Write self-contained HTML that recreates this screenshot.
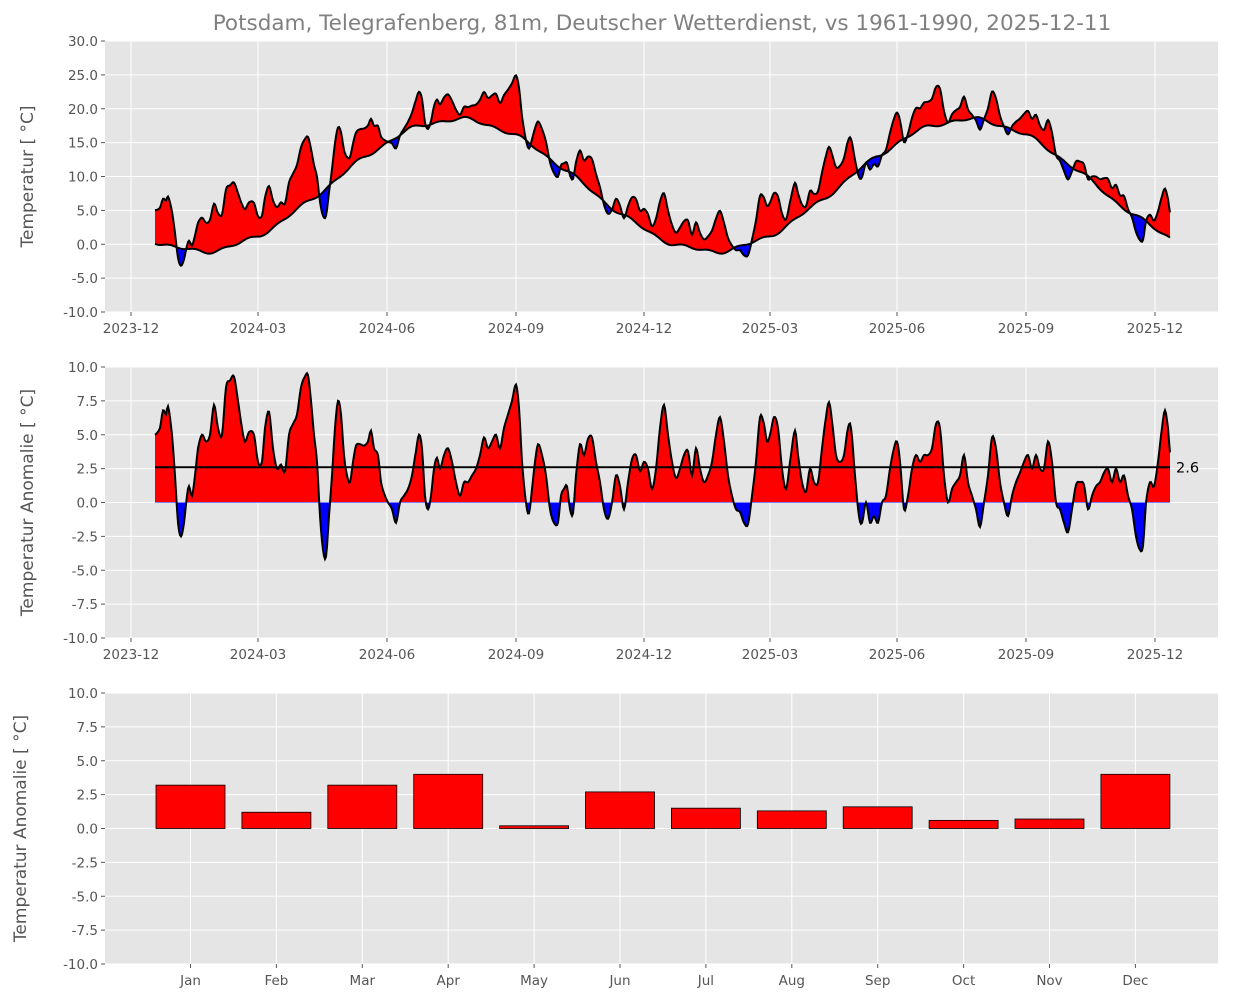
<!DOCTYPE html>
<html><head><meta charset="utf-8"><style>
html,body{margin:0;padding:0;background:#fff;}
svg text{font-family:"DejaVu Sans","Liberation Sans",sans-serif;}
</style></head><body>
<svg id="s" width="1235" height="1003" xmlns="http://www.w3.org/2000/svg"></svg>
<script>
const S=document.getElementById('s');let h='';
const AX=[105,1218];
const an=[[155,5],[160,5.5],[163,6.8],[166,6.5],[168,7.1],[172,5],[175,2],[178,-1.5],[181,-2.5],[184,-1.5],[187,0.5],[189,1.2],[192,0.5],[195,2],[198,4],[202,5],[206,4.5],[210,5],[214,7.2],[218,5.5],[222,5],[226,8.5],[230,9],[234,9.3],[238,7.5],[242,5.5],[245,4.5],[249,5.2],[254,5],[258,3],[262,3],[265,5.5],[269,6.7],[273,4],[277,2.5],[281,2.8],[285,2.3],[289,5],[293,5.8],[297,6.5],[301,8.5],[305,9.3],[308,9.4],[311,7.5],[314,5],[317,3],[320,-1],[323,-3.5],[326,-4],[329,-1],[332,2],[335,5.5],[338,7.5],[341,6.5],[344,3.5],[347,2],[350,1.5],[353,3],[356,4.2],[360,4.3],[364,4.2],[368,4.5],[371,5.3],[374,4],[378,3.5],[381,1.5],[385,0.5],[388,0],[392,-0.5],[396,-1.5],[400,0],[404,0.5],[408,1],[412,2],[416,3.8],[419,5],[422,4],[425,0.5],[428,-0.5],[431,0.5],[434,2.5],[437,3.3],[440,2.5],[444,3.5],[448,4],[452,3],[456,1.5],[460,0.5],[464,1.5],[468,1.5],[472,2],[476,2.5],[480,3.5],[484,4.8],[488,4],[492,4.5],[496,5],[500,4],[504,5.5],[508,6.5],[512,7.5],[516,8.7],[519,7],[522,3],[526,0],[529,-0.8],[532,1],[535,3],[538,4.3],[542,3.5],[546,2],[550,-0.5],[554,-1.5],[558,-1.5],[561,0.5],[564,1],[567,1.2],[570,-0.5],[573,-0.8],[576,2],[580,4.3],[584,3.5],[588,4.7],[592,4.8],[596,3],[600,1.5],[604,-0.5],[608,-1.2],[612,0],[616,2],[620,1.2],[624,-0.5],[628,1.5],[632,3.2],[636,3.5],[640,2.3],[644,3],[648,2.5],[652,1],[656,2.5],[660,5.5],[664,7.2],[668,5],[672,3],[676,1.8],[680,2.5],[684,3.5],[688,3.8],[692,2],[696,4],[700,2.5],[704,1.5],[708,2],[712,3],[716,5],[720,6.3],[724,4.5],[728,2],[732,0.5],[736,-0.5],[740,-0.7],[744,-1.5],[748,-1.6],[752,0.5],[756,3],[760,6.3],[764,5.8],[767,4.5],[770,5],[774,6.3],[778,5.5],[782,2.5],[786,1],[790,3],[795,5.3],[798,3.5],[802,1.5],[806,0.8],[810,2.5],[814,1.5],[818,1.5],[822,4],[826,6.3],[829,7.4],[832,6],[836,3.5],[840,3],[844,3.5],[848,5.5],[851,5.5],[855,2],[859,-1],[862,-1.5],[866,0],[870,-1.5],[874,-1],[878,-1.5],[882,0],[886,0.5],[890,2.5],[894,4],[897,4.5],[900,3],[904,-0.5],[908,0.5],[912,2.5],[916,3.5],[920,3],[924,3.5],[928,3.5],[932,4],[936,5.8],[940,5.5],[944,2],[948,0],[952,1],[956,1.5],[960,2],[964,3.5],[968,1.5],[972,0.5],[976,-0.5],[980,-1.8],[984,0],[988,2],[992,4.8],[996,4],[1000,1.5],[1004,0],[1008,-1],[1012,0.5],[1016,1.5],[1020,2.2],[1024,3],[1028,3.5],[1032,2.5],[1036,3.5],[1040,2.5],[1044,2.5],[1048,4.5],[1052,3],[1056,0],[1060,-0.5],[1064,-1.5],[1068,-2.2],[1072,-0.5],[1076,1.3],[1080,1.5],[1084,1.3],[1088,-0.5],[1092,0.5],[1096,1.2],[1100,1.5],[1104,2.2],[1108,2.5],[1112,1.5],[1116,2.5],[1120,1.5],[1124,2],[1128,0.5],[1132,-0.5],[1136,-2.5],[1140,-3.5],[1143,-3.2],[1146,0],[1150,1.5],[1154,1.2],[1158,3],[1162,5.5],[1165,6.8],[1168,5.5],[1170,3.7]];
function A(x){const n=an.length;for(let i=0;i<n-1;i++){if(x<=an[i+1][0]){const t=(x-an[i][0])/(an[i+1][0]-an[i][0]);
 const p0=an[Math.max(i-1,0)][1],p1=an[i][1],p2=an[i+1][1],p3=an[Math.min(i+2,n-1)][1];
 return 0.5*((2*p1)+(-p0+p2)*t+(2*p0-5*p1+4*p2-p3)*t*t+(-p0+3*p1-3*p2+p3)*t*t*t);}}return an[n-1][1];}
function C(x){const doy=(335+(x-131)/1.401)%365;return 8.7-9.7*Math.cos(2*Math.PI*(doy-20)/365)+0.25*Math.sin(x/9)+0.2*Math.sin(x/4.3);}
const xs=[];for(let x=155;x<=1170;x+=1)xs.push(x);
function frame(top,bot,ymin,ymax,step,fmt,lbl,lx){
 h+=`<rect x="${AX[0]}" y="${top}" width="${AX[1]-AX[0]}" height="${bot-top}" fill="#e5e5e5"/>`;
 for(let v=ymin;v<=ymax+1e-9;v+=step){const y=bot-(v-ymin)/(ymax-ymin)*(bot-top);
  h+=`<line x1="${AX[0]}" x2="${AX[1]}" y1="${y}" y2="${y}" stroke="#fff" stroke-width="1"/>`;
  h+=`<line x1="${AX[0]-4}" x2="${AX[0]}" y1="${y}" y2="${y}" stroke="#555"/>`;
  h+=`<text x="${AX[0]-7}" y="${y+5}" font-size="13.5" fill="#555" text-anchor="end">${v.toFixed(1)}</text>`;}
 h+=`<text transform="translate(${lx},${(top+bot)/2}) rotate(-90)" font-size="17" fill="#555" text-anchor="middle">${lbl}</text>`;
}
function xt(top,bot,ticks){for(const [x,l] of ticks){h+=`<line x1="${x}" x2="${x}" y1="${top}" y2="${bot}" stroke="#fff"/><line x1="${x}" x2="${x}" y1="${bot}" y2="${bot+4}" stroke="#555"/><text x="${x}" y="${bot+21}" font-size="13.5" fill="#555" text-anchor="middle">${l}</text>`;}}
const dt=[[131,'2023-12'],[258,'2024-03'],[387,'2024-06'],[516,'2024-09'],[644,'2024-12'],[770,'2025-03'],[897,'2025-06'],[1026,'2025-09'],[1155,'2025-12']];
h+=`<text x="662" y="30" font-size="21.5" fill="#808080" text-anchor="middle">Potsdam, Telegrafenberg, 81m, Deutscher Wetterdienst, vs 1961-1990, 2025-12-11</text>`;
const t1=41,b1=312,Y1=v=>b1-(v+10)/40*(b1-t1);
frame(t1,b1,-10,30,5,0,'Temperatur [ °C]',33);xt(t1,b1,dt);
const cl=xs.map(x=>[x,Y1(C(x))]),tp=xs.map(x=>[x,Y1(C(x)+A(x))]);
const P=a=>a.map(p=>p[0]+','+p[1].toFixed(2)).join(' ');
const area=P(tp)+' '+P(cl.slice().reverse());
h+=`<defs><clipPath id="ca"><polygon points="155,0 ${P(cl)} 1170,0"/></clipPath><clipPath id="cb"><polygon points="155,1003 ${P(cl)} 1170,1003"/></clipPath>
<clipPath id="za"><rect x="0" y="0" width="1235" height="502"/></clipPath><clipPath id="zb"><rect x="0" y="502" width="1235" height="200"/></clipPath></defs>`;
h+=`<polygon points="${area}" fill="#f00" clip-path="url(#ca)"/><polygon points="${area}" fill="#00f" clip-path="url(#cb)"/>`;
h+=`<polyline points="${P(cl)}" fill="none" stroke="#000" stroke-width="2"/><polyline points="${P(tp)}" fill="none" stroke="#000" stroke-width="2"/>`;
const t2=367,b2=638,Y2=v=>b2-(v+10)/20*(b2-t2);
frame(t2,b2,-10,10,2.5,0,'Temperatur Anomalie [ °C]',33);xt(t2,b2,dt);
const ap=xs.map(x=>[x,Y2(A(x))]);const ar=P(ap)+` 1170,${Y2(0)} 155,${Y2(0)}`;
h+=`<polygon points="${ar}" fill="#f00" clip-path="url(#za)"/><polygon points="${ar}" fill="#00f" clip-path="url(#zb)"/>`;
h+=`<polyline points="${P(ap)}" fill="none" stroke="#000" stroke-width="2"/>`;
h+=`<line x1="155" x2="1170" y1="${Y2(2.6)}" y2="${Y2(2.6)}" stroke="#000" stroke-width="2"/><text x="1176" y="${Y2(2.6)+5}" font-size="14.5" fill="#000">2.6</text>`;
const t3=693,b3=964,Y3=v=>b3-(v+10)/20*(b3-t3);
frame(t3,b3,-10,10,2.5,0,'Temperatur Anomalie [ °C]',26);
const mn=['Jan','Feb','Mar','Apr','May','Jun','Jul','Aug','Sep','Oct','Nov','Dec'],bv=[3.2,1.2,3.2,4.0,0.2,2.7,1.5,1.3,1.6,0.6,0.7,4.0];
xt(t3,b3,mn.map((m,i)=>[190.5+i*85.9,m]));
mn.forEach((m,i)=>{const c=190.5+i*85.9,y=Y3(bv[i]);h+=`<rect x="${c-34.5}" y="${y}" width="69" height="${Y3(0)-y}" fill="#f00" stroke="#000" stroke-width="0.8"/>`;});
S.innerHTML=h;
</script>
</body></html>
